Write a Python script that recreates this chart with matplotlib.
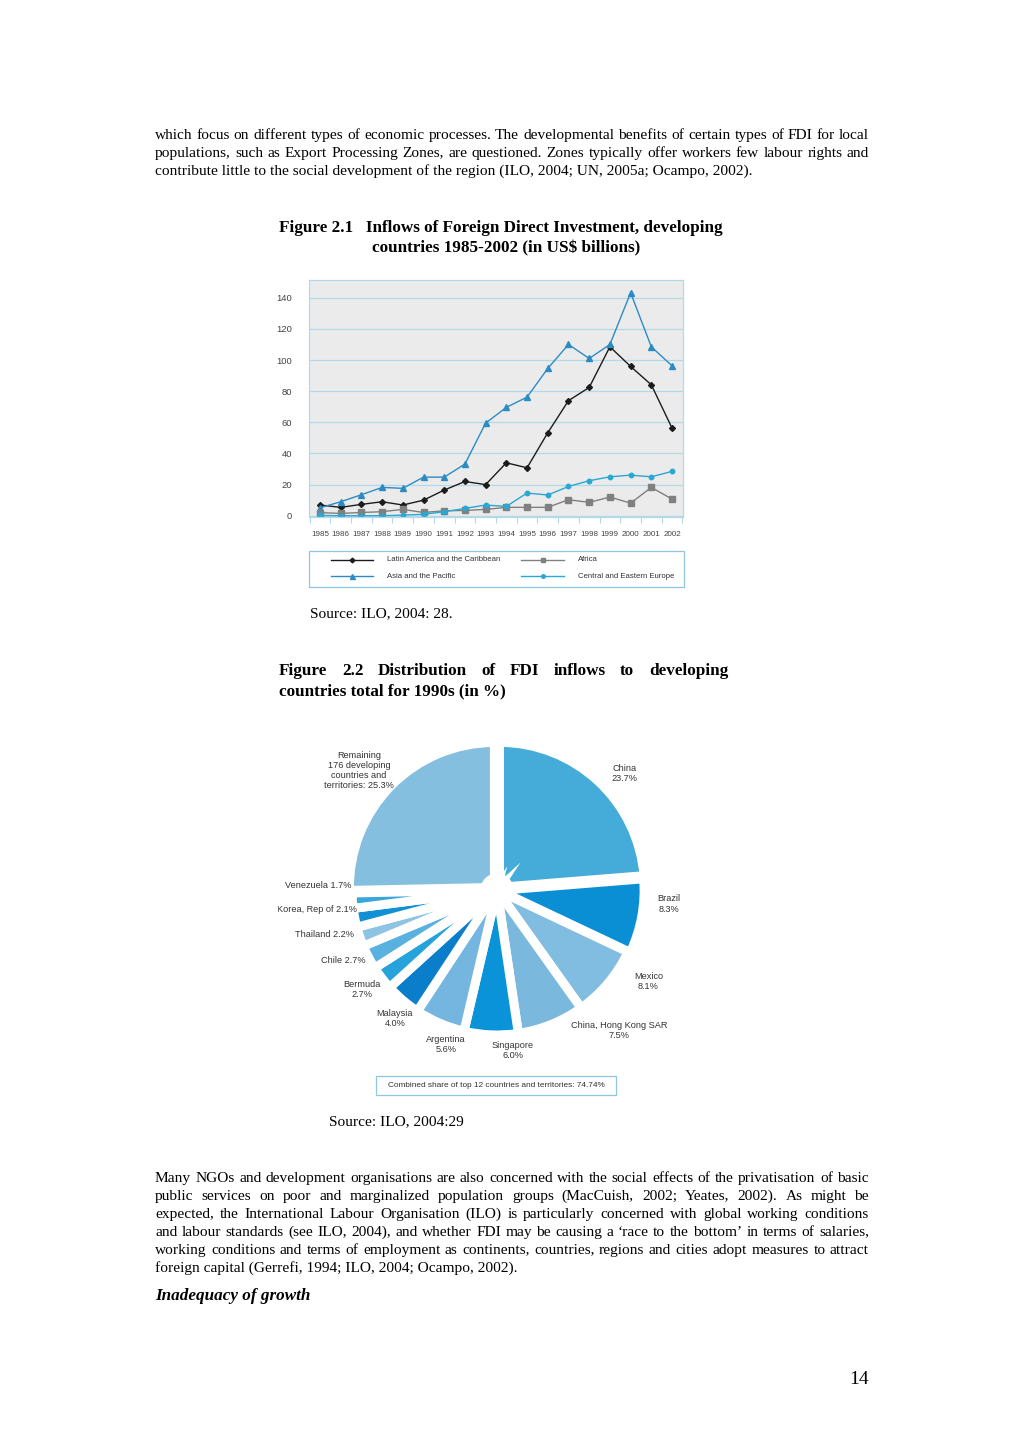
import math
import numpy as np
import matplotlib
matplotlib.use("Agg")
import matplotlib.pyplot as plt
from matplotlib.lines import Line2D
from matplotlib.patches import Rectangle, Circle
from matplotlib.font_manager import FontProperties

# ------------------------------------------------------------
# data
# ------------------------------------------------------------
years = list(range(1985, 2003))
latin = [6.9, 5.4, 7.3, 9.0, 6.9, 10.0, 16.5, 22.0, 20.0, 34.0, 30.8, 53.3,
         73.9, 82.4, 108.5, 95.9, 84.1, 56.3]
asia = [5.1, 9.0, 13.5, 18.2, 17.6, 24.8, 24.8, 33.2, 59.5, 69.6, 76.2, 94.6,
        110.0, 101.0, 110.0, 143.2, 108.5, 96.3]
africa = [2.0, 1.5, 2.1, 2.6, 4.1, 2.1, 3.2, 3.4, 4.1, 5.4, 5.4, 5.4,
          10.3, 8.6, 12.0, 8.1, 18.2, 10.7]
cee = [0.2, 0.0, 0.0, 0.0, 0.4, 0.9, 2.6, 4.7, 6.9, 6.0, 14.6, 13.3,
       18.8, 22.5, 25.0, 26.1, 25.0, 28.5]
series_names = ["Latin America and the Caribbean", "Asia and the Pacific",
                "Africa", "Central and Eastern Europe"]

pie_names = ["China\n23.7%", "Brazil\n8.3%", "Mexico\n8.1%",
             "China, Hong Kong SAR\n7.5%", "Singapore\n6.0%", "Argentina\n5.6%",
             "Malaysia\n4.0%", "Bermuda\n2.7%", "Chile 2.7%", "Thailand 2.2%",
             "Korea, Rep of 2.1%", "Venezuela 1.7%",
             "Remaining\n176 developing\ncountries and\nterritories: 25.3%"]
pie_vals = [23.7, 8.3, 8.1, 7.5, 6.0, 5.6, 4.0, 2.7, 2.7, 2.2, 2.1, 1.7, 25.3]
pie_note = "Combined share of top 12 countries and territories: 74.74%"

par1 = ["which focus on different types of economic processes. The developmental benefits of certain types of FDI for local",
        "populations, such as Export Processing Zones, are questioned. Zones typically offer workers few labour rights and",
        "contribute little to the social development of the region (ILO, 2004; UN, 2005a; Ocampo, 2002)."]
par2 = ["Many NGOs and development organisations are also concerned with the social effects of the privatisation of basic",
        "public services on poor and marginalized population groups (MacCuish, 2002; Yeates, 2002). As might be",
        "expected, the International Labour Organisation (ILO) is particularly concerned with global working conditions",
        "and labour standards (see ILO, 2004), and whether FDI may be causing a \u2018race to the bottom\u2019 in terms of salaries,",
        "working conditions and terms of employment as continents, countries, regions and cities adopt measures to attract",
        "foreign capital (Gerrefi, 1994; ILO, 2004; Ocampo, 2002)."]

# ------------------------------------------------------------
W, H = 1024, 1449
fig = plt.figure(figsize=(W / 100, H / 100), dpi=100)
fig.patch.set_facecolor("white")
renderer = fig.canvas.get_renderer()

SERIF = "Liberation Serif"
SANS = "Liberation Sans"


def fx(x):
    return x / W


def fy(y):
    return 1 - y / H


def text_width(s, **kw):
    t = fig.text(0, 0, s, **kw)
    w = t.get_window_extent(renderer).width
    t.remove()
    return w


def baseline_fix(word, kw):
    # agg snaps each word's bitmap to whole pixels using the word's own
    # descent; shift a little so every word lands on the same baseline row
    try:
        from matplotlib.backends.backend_agg import get_hinting_flag
        prop = FontProperties(family=kw.get("family"), size=kw.get("fontsize"),
                              weight=kw.get("weight", "normal"),
                              style=kw.get("style", "normal"))
        font = renderer._prepare_font(prop)
        font.set_text(word, 0, flags=get_hinting_flag())
        d = font.get_descent() / 64.0
        _, h = font.get_width_height()
        a = h / 64.0 - d
        return (h // 64) - math.floor(a) - d
    except Exception:
        return 0.0


def put_line(s, x0, x1, base, justify, **kw):
    if not justify:
        fig.text(fx(x0), fy(base), s, va="baseline", ha="left", **kw)
        return
    words = s.split()
    ws = [text_width(w, **kw) for w in words]
    gap = (x1 - x0 - sum(ws)) / (len(words) - 1)
    x = x0
    for w, wd in zip(words, ws):
        fig.text(fx(x), fy(base + baseline_fix(w, kw)), w, va="baseline",
                 ha="left", **kw)
        x += wd + gap


def put_par(lines, x0, x1, base0, step, **kw):
    for i, s in enumerate(lines):
        put_line(s, x0, x1, base0 + i * step, i < len(lines) - 1, **kw)


body = dict(fontsize=11.1, family=SERIF, color="black")
put_par(par1, 155, 869, 139, 18, **body)
put_par(par2, 155, 869, 1182, 18, **body)

head = dict(fontsize=12.35, family=SERIF, weight="bold", color="black")
put_line("Figure 2.1   Inflows of Foreign Direct Investment, developing",
         279, 725, 232, False, **head)
put_line("countries 1985-2002 (in US$ billions)", 372, 725, 252, False, **head)
put_line("Figure 2.2 Distribution of FDI inflows to developing",
         279, 728, 675, True, **head)
put_line("countries total for 1990s (in %)", 279, 728, 695, False, **head)

put_line("Source: ILO, 2004: 28.", 310, 700, 617, False, **body)
put_line("Source: ILO, 2004:29", 329, 700, 1125, False, **body)
put_line("Inadequacy of growth", 155, 869, 1300, False, fontsize=12.35,
         family=SERIF, weight="bold", style="italic")
fig.text(fx(869), fy(1384), "14", fontsize=14, family=SERIF, ha="right",
         va="baseline")

# ------------------------------------------------------------
# Figure 2.1 line chart
# ------------------------------------------------------------
ax1 = fig.add_axes([fx(309), fy(517), 374 / W, 237 / H])
ax1.set_facecolor("#ebebec")
grid_c = "#b3d8ea"
styles = [("#1c1c1c", "D", 3), ("#2b8cc4", "^", 4.5),
          ("#808080", "s", 4), ("#28a8d3", "o", 3.2)]
for vals, (c, m, ms) in zip([latin, asia, africa, cee], styles):
    ax1.plot(years, vals, color=c, lw=1, marker=m, ms=ms)

ax1.set_xlim(1984.47, 2002.53)
ax1.set_ylim(-0.8, 151.4)
ax1.set_yticks(range(0, 141, 20))
ax1.yaxis.grid(True, color=grid_c, lw=0.9)
ax1.set_axisbelow(True)
ax1.set_xticks(years)
ax1.set_xticklabels([str(y) for y in years], fontsize=5.8, family=SANS,
                    color="#444444")
ax1.set_xticks(np.arange(1984.5, 2003, 1), minor=True)
ax1.tick_params(axis="x", which="major", length=0, pad=10)
ax1.tick_params(axis="x", which="minor", length=4, color=grid_c, width=0.8)
ax1.tick_params(axis="y", length=0, pad=12, labelsize=6.8, labelcolor="#444444")
for lab in ax1.get_yticklabels():
    lab.set_family(SANS)
for sp in ax1.spines.values():
    sp.set_color(grid_c)
    sp.set_linewidth(0.9)

# legend box drawn by hand to sit exactly as on the page
fig.add_artist(Rectangle((fx(309), fy(587)), 375 / W, 36 / H,
                         transform=fig.transFigure, fill=False,
                         edgecolor="#8fc7e3", lw=0.9))
leg_pos = [(331, 373, 560), (331, 373, 576), (521, 564, 560), (521, 564, 576)]
for name, (c, m, ms), (xa, xb, yy) in zip(series_names, styles, leg_pos):
    fig.add_artist(Line2D([fx(xa), fx(xb)], [fy(yy), fy(yy)],
                          transform=fig.transFigure, color=c, lw=1))
    fig.add_artist(Line2D([fx((xa + xb) / 2)], [fy(yy)],
                          transform=fig.transFigure, color=c, marker=m,
                          ms=ms * 0.8, lw=0))
    fig.text(fx(xb + 14), fy(yy), name, fontsize=5.6, family=SANS,
             color="#333333", va="center", ha="left")

# ------------------------------------------------------------
# Figure 2.2 pie
# ------------------------------------------------------------
R = 145.0
cx, cy = 497, 890
ax2 = fig.add_axes([fx(278), fy(1070), 438 / W, 330 / H])
pie_cols = ["#45acd9", "#0b8fd4", "#80bde0", "#7ab8de", "#0a93d8", "#74b6df",
            "#0a7ecb", "#25a3da", "#58b1de", "#8ec4e3", "#1290d5", "#37a7dc",
            "#84bfdf"]
explode = [0.025, 0.015, 0, 0, 0, 0, 0, 0, 0, 0, 0, 0, 0.025]
wedges, _ = ax2.pie(pie_vals, colors=pie_cols, startangle=90, counterclock=False,
                    explode=explode,
                    wedgeprops=dict(edgecolor="white", linewidth=6.5))
ax2.add_patch(Circle((0, 0), 0.11, color="white", zorder=5))
ax2.set_xlim(-(cx - 278) / R, (716 - cx) / R)
ax2.set_ylim(-(1070 - cy) / R, (cy - 740) / R)
ax2.set_aspect("auto")
ax2.axis("off")

lab_dist = [1.19, 1.19, 1.22, 1.28, 1.11, 1.12, 1.13, 1.16, 1.17, 1.23, 1.25,
            1.235, 1.26]
lab_shift = [-5, 5.7, 8.8, 19, 8, 5, 2, -1, -3, -4.4, -5, -5.8, 3.4]
for w, name, d, s in zip(wedges, pie_names, lab_dist, lab_shift):
    mid = np.deg2rad((w.theta1 + w.theta2) / 2 + s)
    ax2.text(d * np.cos(mid), d * np.sin(mid), name, ha="center", va="center",
             fontsize=6.6, family=SANS, color="#333333", linespacing=1.15,
             clip_on=True)

fig.add_artist(Rectangle((fx(376), fy(1095)), 240 / W, 19 / H,
                         transform=fig.transFigure, fill=False,
                         edgecolor="#8fc7e3", lw=0.9))
fig.text(fx(496), fy(1085.5), pie_note, ha="center", va="center",
         fontsize=5.95, family=SANS, color="#333333")

fig.savefig("out.png", dpi=100, facecolor="white")
